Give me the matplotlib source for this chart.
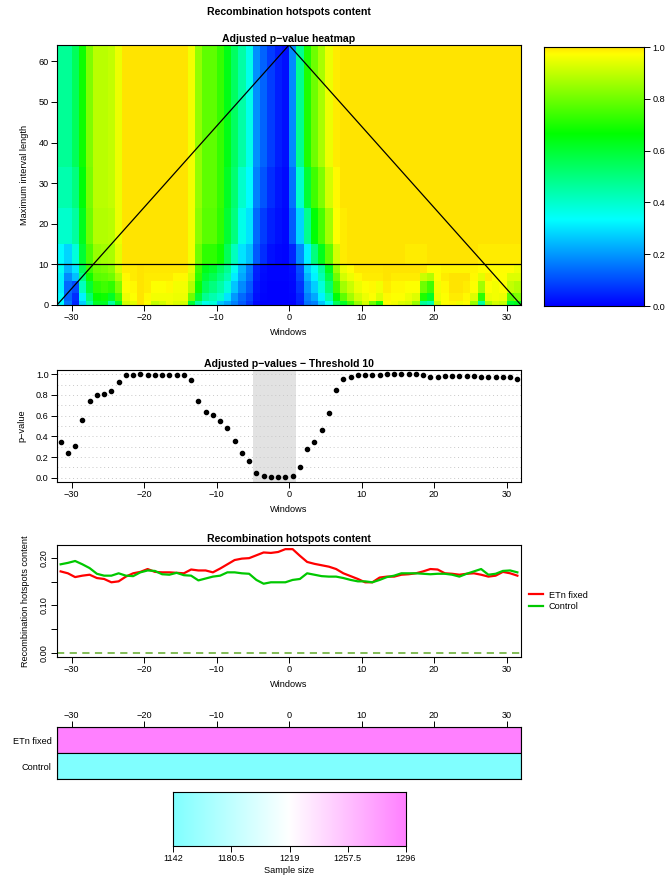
import numpy as np
import matplotlib
matplotlib.use("Agg")
import matplotlib.pyplot as plt
from matplotlib.colors import LinearSegmentedColormap, Normalize

plt.rcParams['font.family'] = ['Liberation Sans', 'DejaVu Sans']
plt.rcParams['axes.unicode_minus'] = True

# ------------------------------------------------------------------ data
windows = np.arange(-31.5, 32.0, 1.0)          # window centres
max_len = 64                                    # maximum interval length
threshold = 10

pval_thr10 = [0.345, 0.239, 0.303, 0.555, 0.742, 0.800, 0.810, 0.835, 0.923, 0.990, 0.990, 1.000,
              0.994, 0.994, 0.994, 0.994, 0.994, 0.994, 0.945, 0.742, 0.635, 0.606, 0.545, 0.480,
              0.355, 0.239, 0.161, 0.045, 0.019, 0.006, 0.006, 0.006,
              0.016, 0.103, 0.277, 0.345, 0.461, 0.629, 0.848, 0.952, 0.974, 0.994, 0.994, 0.994,
              0.994, 1.000, 1.000, 1.000, 1.000, 1.000, 0.994, 0.974, 0.974, 0.984, 0.984, 0.984,
              0.984, 0.984, 0.974, 0.974, 0.974, 0.974, 0.974, 0.955]

etn_fixed = [0.172, 0.168, 0.160, 0.163, 0.165, 0.158, 0.156, 0.149, 0.151, 0.161, 0.168, 0.171,
             0.177, 0.171, 0.170, 0.170, 0.169, 0.168, 0.176, 0.174, 0.174, 0.170, 0.178, 0.187,
             0.196, 0.199, 0.200, 0.206, 0.212, 0.211, 0.213, 0.219,
             0.219, 0.205, 0.192, 0.188, 0.185, 0.182, 0.177, 0.168, 0.162, 0.156, 0.149, 0.149,
             0.159, 0.161, 0.161, 0.165, 0.166, 0.168, 0.172, 0.177, 0.176, 0.168, 0.167, 0.165,
             0.167, 0.168, 0.165, 0.161, 0.163, 0.171, 0.168, 0.163]

control = [0.187, 0.190, 0.194, 0.187, 0.179, 0.167, 0.163, 0.163, 0.168, 0.163, 0.162, 0.170,
           0.174, 0.173, 0.166, 0.165, 0.169, 0.164, 0.163, 0.153, 0.157, 0.161, 0.163, 0.170,
           0.170, 0.168, 0.167, 0.154, 0.146, 0.149, 0.149, 0.149,
           0.154, 0.156, 0.168, 0.165, 0.162, 0.161, 0.161, 0.158, 0.154, 0.151, 0.151, 0.149,
           0.154, 0.160, 0.163, 0.168, 0.168, 0.168, 0.167, 0.166, 0.167, 0.167, 0.165, 0.161,
           0.167, 0.172, 0.177, 0.165, 0.167, 0.173, 0.174, 0.170]

# heatmap: adjusted p-values per window, grouped by interval-length rows
heat_len1 = [0.33, 0.15, 0.05, 0.27, 0.45, 0.62, 0.62, 0.46, 0.62, 0.92, 0.94, 1.00, 0.97, 0.90, 0.92, 0.95,
             0.93, 0.92, 0.60, 0.45, 0.36, 0.38, 0.26, 0.22, 0.17, 0.12, 0.07, 0.01, 0.00, 0.00, 0.00, 0.00,
             0.00, 0.04, 0.15, 0.17, 0.26, 0.35, 0.55, 0.62, 0.74, 0.85, 0.92, 0.80, 0.70, 0.97, 0.96, 0.93,
             0.92, 0.85, 0.47, 0.44, 0.90, 0.97, 0.98, 0.96, 0.97, 0.85, 0.46, 0.87, 0.92, 0.90, 0.60, 0.63]
heat_len2_3 = [0.33, 0.13, 0.06, 0.32, 0.52, 0.67, 0.68, 0.62, 0.75, 0.95, 0.97, 1.00, 0.98, 0.96, 0.96, 0.96,
               0.95, 0.95, 0.80, 0.60, 0.48, 0.44, 0.40, 0.30, 0.20, 0.14, 0.09, 0.02, 0.005, 0.00, 0.00, 0.00,
               0.005, 0.05, 0.17, 0.22, 0.32, 0.45, 0.66, 0.78, 0.86, 0.92, 0.95, 0.97, 0.93, 0.98, 0.97, 0.97,
               0.95, 0.93, 0.70, 0.62, 0.95, 0.97, 0.99, 0.99, 0.98, 0.93, 0.72, 0.95, 0.96, 0.95, 0.77, 0.82]
heat_len4_6 = [0.32, 0.14, 0.10, 0.42, 0.60, 0.72, 0.74, 0.72, 0.82, 0.97, 0.98, 1.00, 0.99, 0.97, 0.97, 0.98,
               0.96, 0.96, 0.88, 0.68, 0.55, 0.50, 0.45, 0.38, 0.26, 0.18, 0.12, 0.03, 0.01, 0.00, 0.00, 0.00,
               0.01, 0.07, 0.20, 0.27, 0.38, 0.52, 0.74, 0.86, 0.91, 0.95, 0.97, 0.98, 0.96, 0.99, 0.98, 0.98,
               0.97, 0.97, 0.80, 0.74, 0.96, 0.98, 1.00, 1.00, 0.99, 0.97, 0.86, 0.97, 0.96, 0.97, 0.90, 0.88]
heat_len7_8 = [0.32, 0.18, 0.25, 0.50, 0.68, 0.77, 0.78, 0.80, 0.88, 0.98, 0.99, 1.00, 0.99, 0.99, 0.99, 0.99,
               0.98, 0.98, 0.92, 0.72, 0.60, 0.56, 0.50, 0.44, 0.31, 0.22, 0.15, 0.04, 0.015, 0.005, 0.005, 0.005,
               0.012, 0.09, 0.24, 0.32, 0.43, 0.58, 0.80, 0.92, 0.95, 0.98, 0.99, 0.99, 0.99, 1.00, 0.99, 0.99,
               0.99, 0.99, 0.91, 0.88, 0.97, 0.99, 1.00, 1.00, 1.00, 0.98, 0.94, 0.99, 0.97, 0.97, 0.93, 0.93]
heat_len11_15 = [0.33, 0.28, 0.38, 0.60, 0.76, 0.85, 0.86, 0.87, 0.94, 1.00, 1.00, 1.00, 1.00, 1.00, 1.00, 1.00,
                 1.00, 1.00, 0.96, 0.80, 0.72, 0.72, 0.68, 0.55, 0.42, 0.30, 0.25, 0.12, 0.06, 0.02, 0.01, 0.005,
                 0.05, 0.18, 0.32, 0.50, 0.63, 0.78, 0.92, 0.99, 1.00, 1.00, 1.00, 1.00, 1.00, 1.00, 1.00, 1.00,
                 0.99, 0.99, 0.99, 1.00, 1.00, 1.00, 1.00, 1.00, 1.00, 1.00, 0.99, 0.99, 0.99, 0.99, 0.99, 0.99]
heat_len16_24 = [0.40, 0.40, 0.46, 0.63, 0.80, 0.88, 0.88, 0.89, 0.95, 1.00, 1.00, 1.00, 1.00, 1.00, 1.00, 1.00,
                 1.00, 1.00, 0.96, 0.83, 0.77, 0.77, 0.72, 0.60, 0.50, 0.36, 0.30, 0.14, 0.08, 0.04, 0.02, 0.01,
                 0.12, 0.28, 0.48, 0.66, 0.75, 0.86, 0.97, 0.99, 1.00, 1.00, 1.00, 1.00, 1.00, 1.00, 1.00, 1.00,
                 1.00, 1.00, 1.00, 1.00, 1.00, 1.00, 1.00, 1.00, 1.00, 1.00, 1.00, 1.00, 1.00, 1.00, 1.00, 1.00]
heat_len25_34 = [0.44, 0.44, 0.50, 0.66, 0.81, 0.89, 0.89, 0.90, 0.95, 1.00, 1.00, 1.00, 1.00, 1.00, 1.00, 1.00,
                 1.00, 1.00, 0.96, 0.84, 0.78, 0.78, 0.73, 0.62, 0.52, 0.40, 0.33, 0.17, 0.11, 0.06, 0.03, 0.015,
                 0.15, 0.40, 0.60, 0.74, 0.82, 0.92, 0.98, 1.00, 1.00, 1.00, 1.00, 1.00, 1.00, 1.00, 1.00, 1.00,
                 1.00, 1.00, 1.00, 1.00, 1.00, 1.00, 1.00, 1.00, 1.00, 1.00, 1.00, 1.00, 1.00, 1.00, 1.00, 1.00]
heat_len35_64 = [0.47, 0.47, 0.55, 0.68, 0.82, 0.89, 0.89, 0.90, 0.95, 1.00, 1.00, 1.00, 1.00, 1.00, 1.00, 1.00,
                 1.00, 1.00, 0.96, 0.84, 0.78, 0.78, 0.73, 0.64, 0.54, 0.45, 0.36, 0.19, 0.13, 0.08, 0.04, 0.02,
                 0.18, 0.48, 0.70, 0.80, 0.87, 0.95, 0.99, 1.00, 1.00, 1.00, 1.00, 1.00, 1.00, 1.00, 1.00, 1.00,
                 1.00, 1.00, 1.00, 1.00, 1.00, 1.00, 1.00, 1.00, 1.00, 1.00, 1.00, 1.00, 1.00, 1.00, 1.00, 1.00]

row_groups = [(1, 1, heat_len1), (2, 3, heat_len2_3), (4, 6, heat_len4_6), (7, 8, heat_len7_8),
              (9, 10, pval_thr10), (11, 15, heat_len11_15), (16, 24, heat_len16_24),
              (25, 34, heat_len25_34), (35, 64, heat_len35_64)]

sample_groups = ["ETn fixed", "Control"]
sample_sizes = [1296, 1142]
sample_ticks = [1142, 1180.5, 1219, 1257.5, 1296]

shade_region = (-5, 1)

# ------------------------------------------------------------------ style
W, H = 671, 876
fig = plt.figure(figsize=(W / 100, H / 100), dpi=100)

def rect(x0, y0, x1, y1):
    return [x0 / W, 1 - y1 / H, (x1 - x0) / W, (y1 - y0) / H]

FS = 6.6
TFS = 7.6

def rstyle(ax):
    for s in ax.spines.values():
        s.set_linewidth(0.8)
        s.set_color('black')
    ax.tick_params(direction='out', length=4, width=0.7, labelsize=FS, colors='black', pad=2)

heat_cmap = LinearSegmentedColormap.from_list(
    'pheat', [(0.0, '#0000FF'), (1 / 3, '#00FFFF'), (2 / 3, '#00FF00'),
              (0.975, '#FFFF00'), (1.0, '#FFE400')])

x_edges = np.append(windows - 0.5, windows[-1] + 0.5)
xlim = (x_edges[0], x_edges[-1])
xt = [-30, -20, -10, 0, 10, 20, 30]

fig.text(289 / W, 1 - 12 / H, "Recombination hotspots content", ha='center', va='center',
         fontsize=TFS, fontweight='bold')

# ------------------------------------------------------------------ heatmap
heat = np.zeros((max_len, len(windows)))
for lo, hi, vals in row_groups:
    heat[lo - 1:hi, :] = vals
y_edges = np.arange(0, max_len + 1)

ax1 = fig.add_axes(rect(57, 45, 521, 305))
ax1.pcolormesh(x_edges, y_edges, heat, cmap=heat_cmap, vmin=0, vmax=1, shading='flat')
ax1.plot([x_edges[0], 0, x_edges[-1]], [0, max_len, 0], color='black', lw=0.9)
ax1.axhline(threshold, color='black', lw=0.9)
ax1.set_xlim(xlim)
ax1.set_ylim(0, max_len)
ax1.set_xticks(xt)
ax1.set_yticks([0, 10, 20, 30, 40, 50, 60])
ax1.set_xlabel("Windows", fontsize=FS, labelpad=4)
ax1.set_ylabel("Maximum interval length", fontsize=FS, labelpad=7)
ax1.set_title("Adjusted p\u2212value heatmap", fontsize=TFS, fontweight='bold', pad=2)
rstyle(ax1)

cb = fig.add_axes(rect(544, 47, 644, 306))
cb.imshow(np.linspace(0, 1, 512).reshape(-1, 1), aspect='auto', cmap=heat_cmap,
          origin='lower', extent=[0, 1, 0, 1])
cb.set_xticks([])
cb.yaxis.tick_right()
cb.set_yticks([0, 0.2, 0.4, 0.6, 0.8, 1.0])
cb.set_yticklabels(["0.0", "0.2", "0.4", "0.6", "0.8", "1.0"])
rstyle(cb)

# ------------------------------------------------------------------ p-value scatter
ax2 = fig.add_axes(rect(57, 370, 521, 482))
ax2.axvspan(shade_region[0], shade_region[1], color='#E2E2E2', lw=0, zorder=0)
for g in np.arange(0, 1.01, 0.1):
    ax2.axhline(g, color='#C8C8C8', lw=0.7, ls=(0, (1, 3)), zorder=1)
ax2.plot(windows, pval_thr10, 'o', color='black', ms=3.0, zorder=3)
ax2.set_xlim(xlim)
ax2.set_ylim(-0.04, 1.04)
ax2.set_xticks(xt)
ax2.set_yticks([0, 0.2, 0.4, 0.6, 0.8, 1.0])
ax2.set_yticklabels(["0.0", "0.2", "0.4", "0.6", "0.8", "1.0"])
ax2.set_xlabel("Windows", fontsize=FS, labelpad=4)
ax2.set_ylabel("p\u2212value", fontsize=FS, labelpad=7)
ax2.set_title("Adjusted p\u2212values \u2212 Threshold 10", fontsize=TFS, fontweight='bold', pad=2)
rstyle(ax2)

# ------------------------------------------------------------------ lines
ax3 = fig.add_axes(rect(57, 545, 521, 657))
ax3.plot(windows, etn_fixed, color='#FF0000', lw=1.6, label="ETn fixed", zorder=3)
ax3.plot(windows, control, color='#00C800', lw=1.6, label="Control", zorder=3)
ax3.axhline(0, color='#78B84A', lw=1.3, ls=(0, (4, 3)), zorder=2)
ax3.set_xlim(xlim)
ymax = max(max(etn_fixed), max(control))
ax3.set_ylim(-0.04 * ymax, ymax * 1.04)
ax3.set_xticks(xt)
ax3.set_yticks([0, 0.05, 0.10, 0.15, 0.20])
ax3.set_yticklabels(["0.00", "", "0.10", "", "0.20"], rotation=90, va='center')
ax3.set_xlabel("Windows", fontsize=FS, labelpad=4)
ax3.set_ylabel("Recombination hotspots content", fontsize=FS, labelpad=7)
ax3.set_title("Recombination hotspots content", fontsize=TFS, fontweight='bold', pad=2)
rstyle(ax3)
leg = ax3.legend(loc='center left', bbox_to_anchor=(1.005, 0.5), frameon=False, fontsize=FS,
                 handlelength=1.6, handletextpad=0.6, borderaxespad=0.2, labelspacing=0.3)

# ------------------------------------------------------------------ sample sizes
ss_cmap = LinearSegmentedColormap.from_list('ss', ['#80FFFF', '#FFFFFF', '#FF80FF'])
ss_norm = Normalize(min(sample_ticks), max(sample_ticks))

ax4 = fig.add_axes(rect(57, 727, 521, 779))
ypos = np.arange(len(sample_groups))[::-1]
ax4.barh(ypos, x_edges[-1] - x_edges[0], left=x_edges[0], height=1.0,
         color=[ss_cmap(ss_norm(v)) for v in sample_sizes], edgecolor='black', lw=0.8)
ax4.set_xlim(xlim)
ax4.set_ylim(-0.5, len(sample_groups) - 0.5)
ax4.xaxis.tick_top()
ax4.set_xticks(xt)
ax4.set_yticks(ypos)
ax4.set_yticklabels(sample_groups)
rstyle(ax4)
ax4.tick_params(axis='y', length=0, pad=4)
ax4.tick_params(axis='x', pad=1)

ax5 = fig.add_axes(rect(173, 792, 406, 846))
ax5.imshow(np.linspace(0, 1, 512).reshape(1, -1), aspect='auto', cmap=ss_cmap,
           extent=[min(sample_ticks), max(sample_ticks), 0, 1])
ax5.set_yticks([])
ax5.set_xticks(sample_ticks)
ax5.set_xticklabels(["1142", "1180.5", "1219", "1257.5", "1296"])
ax5.set_xlabel("Sample size", fontsize=FS, labelpad=2.5)
rstyle(ax5)
ax5.tick_params(axis='x', pad=1.5)

fig.savefig("out.png", dpi=100)
